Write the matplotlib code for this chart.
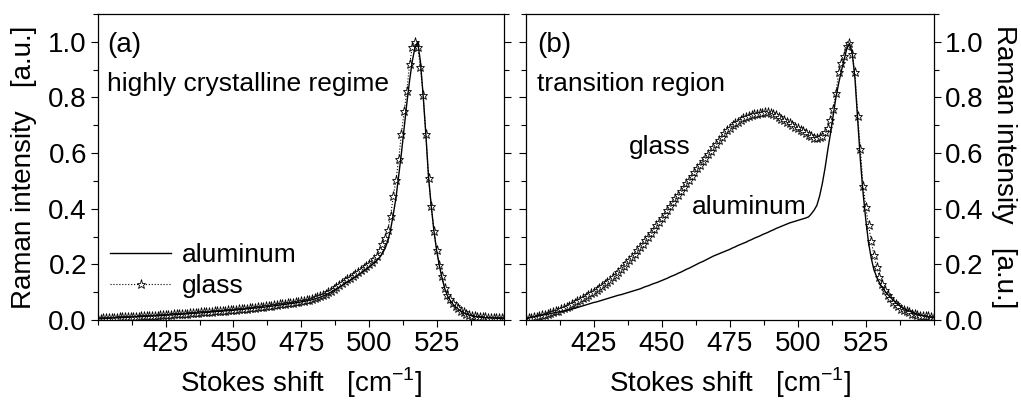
import matplotlib
matplotlib.use('Agg')
import matplotlib.pyplot as plt
from matplotlib.lines import Line2D
from matplotlib.ticker import MultipleLocator

plt.rcParams['font.family'] = ['Liberation Sans', 'DejaVu Sans']

# Stokes shift grid (cm^-1)
shift = list(range(400, 551))

# panel (a): highly crystalline regime
a_glass = [
    0.005, 0.005, 0.006, 0.006, 0.007, 0.007, 0.008, 0.008, 0.009, 0.009,
    0.010, 0.010, 0.011, 0.011, 0.012, 0.012, 0.013, 0.013, 0.014, 0.014,
    0.015, 0.015, 0.016, 0.017, 0.017, 0.018, 0.018, 0.019, 0.020, 0.020,
    0.021, 0.022, 0.022, 0.023, 0.024, 0.025, 0.025, 0.026, 0.027, 0.028,
    0.028, 0.029, 0.030, 0.031, 0.032, 0.032, 0.033, 0.034, 0.035, 0.035,
    0.036, 0.037, 0.038, 0.039, 0.040, 0.041, 0.042, 0.043, 0.044, 0.045,
    0.047, 0.048, 0.049, 0.050, 0.052, 0.053, 0.054, 0.056, 0.057, 0.058,
    0.060, 0.061, 0.062, 0.064, 0.065, 0.067, 0.069, 0.071, 0.073, 0.076,
    0.079, 0.082, 0.086, 0.090, 0.095, 0.100, 0.106, 0.112, 0.119, 0.126,
    0.133, 0.140, 0.146, 0.152, 0.158, 0.164, 0.171, 0.178, 0.186, 0.194,
    0.203, 0.210, 0.218, 0.230, 0.250, 0.275, 0.295, 0.325, 0.375, 0.445,
    0.505, 0.580, 0.670, 0.750, 0.825, 0.920, 0.980, 1.000, 0.980, 0.910,
    0.810, 0.670, 0.510, 0.410, 0.320, 0.252, 0.198, 0.158, 0.116, 0.090,
    0.075, 0.062, 0.050, 0.042, 0.034, 0.027, 0.023, 0.019, 0.016, 0.014,
    0.012, 0.011, 0.010, 0.009, 0.008, 0.008, 0.007, 0.007, 0.006, 0.006,
    0.006,
]
a_aluminum = [
    0.004, 0.005, 0.005, 0.006, 0.006, 0.007, 0.007, 0.008, 0.008, 0.009,
    0.009, 0.010, 0.010, 0.011, 0.011, 0.012, 0.012, 0.013, 0.013, 0.014,
    0.014, 0.015, 0.015, 0.016, 0.016, 0.017, 0.018, 0.018, 0.019, 0.020,
    0.020, 0.021, 0.022, 0.022, 0.023, 0.024, 0.024, 0.025, 0.026, 0.027,
    0.027, 0.028, 0.029, 0.030, 0.031, 0.031, 0.032, 0.033, 0.034, 0.034,
    0.035, 0.036, 0.037, 0.038, 0.039, 0.040, 0.041, 0.042, 0.043, 0.044,
    0.045, 0.046, 0.047, 0.049, 0.050, 0.051, 0.052, 0.054, 0.055, 0.056,
    0.058, 0.059, 0.060, 0.062, 0.063, 0.065, 0.067, 0.069, 0.071, 0.073,
    0.076, 0.079, 0.082, 0.086, 0.090, 0.095, 0.100, 0.106, 0.112, 0.118,
    0.124, 0.131, 0.137, 0.143, 0.149, 0.155, 0.161, 0.168, 0.175, 0.182,
    0.190, 0.198, 0.206, 0.215, 0.226, 0.240, 0.258, 0.285, 0.325, 0.380,
    0.440, 0.520, 0.600, 0.690, 0.780, 0.860, 0.930, 0.980, 1.000, 0.930,
    0.810, 0.670, 0.515, 0.410, 0.320, 0.250, 0.195, 0.150, 0.112, 0.087,
    0.070, 0.057, 0.047, 0.039, 0.032, 0.026, 0.022, 0.018, 0.015, 0.013,
    0.011, 0.010, 0.009, 0.008, 0.008, 0.007, 0.007, 0.006, 0.006, 0.005,
    0.005,
]

# panel (b): transition region
b_glass = [
    0.005, 0.007, 0.008, 0.010, 0.012, 0.014, 0.017, 0.019, 0.022, 0.025,
    0.028, 0.031, 0.034, 0.038, 0.042, 0.046, 0.051, 0.056, 0.061, 0.067,
    0.073, 0.078, 0.084, 0.090, 0.096, 0.102, 0.109, 0.116, 0.122, 0.129,
    0.137, 0.144, 0.153, 0.163, 0.173, 0.183, 0.194, 0.204, 0.215, 0.227,
    0.238, 0.250, 0.262, 0.274, 0.286, 0.298, 0.312, 0.326, 0.340, 0.354,
    0.368, 0.382, 0.396, 0.410, 0.424, 0.437, 0.451, 0.465, 0.479, 0.492,
    0.505, 0.519, 0.532, 0.545, 0.558, 0.570, 0.583, 0.595, 0.608, 0.621,
    0.634, 0.647, 0.659, 0.671, 0.683, 0.692, 0.700, 0.707, 0.713, 0.720,
    0.726, 0.730, 0.734, 0.737, 0.740, 0.742, 0.744, 0.745, 0.746, 0.746,
    0.745, 0.742, 0.737, 0.731, 0.724, 0.718, 0.713, 0.707, 0.701, 0.695,
    0.689, 0.684, 0.678, 0.673, 0.666, 0.660, 0.655, 0.655, 0.658, 0.663,
    0.675, 0.692, 0.718, 0.760, 0.815, 0.890, 0.925, 0.950, 0.985, 0.995,
    0.955, 0.890, 0.735, 0.615, 0.482, 0.405, 0.340, 0.284, 0.233, 0.190,
    0.155, 0.128, 0.108, 0.091, 0.078, 0.066, 0.057, 0.049, 0.041, 0.035,
    0.031, 0.027, 0.023, 0.020, 0.018, 0.016, 0.015, 0.014, 0.013, 0.012,
    0.011,
]
b_aluminum = [
    0.005, 0.007, 0.009, 0.011, 0.013, 0.015, 0.017, 0.019, 0.021, 0.023,
    0.025, 0.027, 0.029, 0.031, 0.033, 0.035, 0.037, 0.040, 0.042, 0.045,
    0.048, 0.051, 0.054, 0.057, 0.060, 0.063, 0.065, 0.068, 0.071, 0.074,
    0.077, 0.080, 0.083, 0.086, 0.089, 0.091, 0.094, 0.097, 0.100, 0.103,
    0.106, 0.109, 0.112, 0.116, 0.120, 0.123, 0.127, 0.131, 0.134, 0.138,
    0.142, 0.146, 0.150, 0.155, 0.159, 0.163, 0.168, 0.172, 0.177, 0.182,
    0.186, 0.191, 0.196, 0.201, 0.206, 0.210, 0.215, 0.220, 0.225, 0.230,
    0.234, 0.238, 0.242, 0.246, 0.250, 0.254, 0.259, 0.263, 0.268, 0.272,
    0.276, 0.280, 0.285, 0.289, 0.294, 0.298, 0.302, 0.307, 0.311, 0.315,
    0.320, 0.324, 0.329, 0.333, 0.337, 0.341, 0.345, 0.349, 0.352, 0.355,
    0.358, 0.361, 0.364, 0.367, 0.371, 0.382, 0.395, 0.412, 0.445, 0.490,
    0.545, 0.610, 0.670, 0.735, 0.800, 0.850, 0.895, 0.935, 0.975, 0.995,
    0.960, 0.870, 0.720, 0.575, 0.456, 0.360, 0.278, 0.222, 0.180, 0.155,
    0.134, 0.118, 0.104, 0.092, 0.082, 0.072, 0.062, 0.054, 0.047, 0.041,
    0.036, 0.032, 0.028, 0.024, 0.021, 0.018, 0.015, 0.013, 0.011, 0.009,
    0.008,
]

xticks = [425, 450, 475, 500, 525]
yticks = [0.0, 0.2, 0.4, 0.6, 0.8, 1.0]
xlabel = 'Stokes shift   [cm$^{\\mathregular{-1}}$]'
ylabel = 'Raman intensity   [a.u.]'

FS = 20
fig = plt.figure(figsize=(10.21, 4.01), dpi=100)
ax1 = fig.add_axes([0.096, 0.202, 0.398, 0.763])
ax2 = fig.add_axes([0.515, 0.202, 0.3996, 0.763])

star = dict(ls=':', lw=0.8, color='black', marker='*', ms=6.5,
            mfc='white', mec='black', mew=0.6)

for ax, al, gl in [(ax1, a_aluminum, a_glass), (ax2, b_aluminum, b_glass)]:
    ax.plot(shift, gl, zorder=2, **star)
    ax.plot(shift, al, color='black', lw=1.0, zorder=3)
    ax.set_xlim(400, 550)
    ax.set_ylim(0, 1.1)
    ax.set_xticks(xticks)
    ax.set_yticks(yticks)
    ax.set_yticklabels([f'{v:.1f}' for v in yticks])
    ax.xaxis.set_minor_locator(MultipleLocator(12.5))
    ax.yaxis.set_minor_locator(MultipleLocator(0.1))
    ax.tick_params(which='both', direction='out', labelsize=FS, width=0.8, pad=3)
    ax.tick_params(which='major', length=5)
    ax.tick_params(which='minor', length=3.5)
    ax.set_xlabel(xlabel, fontsize=FS, labelpad=6)
    for s in ax.spines.values():
        s.set_linewidth(0.9)

# left panel: labels on the left, bare ticks on the right
ax1.tick_params(axis='y', which='both', right=True, labelright=False)
ax1.set_ylabel(ylabel, fontsize=FS, labelpad=8)
ax1.text(0.022, 0.94, '(a)', transform=ax1.transAxes, fontsize=FS, va='top', ha='left')
ax1.text(0.022, 0.77, 'highly crystalline regime', transform=ax1.transAxes,
         fontsize=19, va='center', ha='left')
handles = [Line2D([], [], color='black', lw=1.0),
           Line2D([], [], **star)]
ax1.legend(handles, ['aluminum', 'glass'], loc='lower left', bbox_to_anchor=(0.03, 0.072),
           frameon=False, fontsize=19, handlelength=2.3, handletextpad=0.4,
           labelspacing=0.25, borderpad=0, borderaxespad=0, numpoints=1)

# right panel: labels on the right
ax2.yaxis.tick_right()
ax2.tick_params(axis='y', which='both', left=True, right=True, labelleft=False, labelright=True)
ax2.yaxis.set_label_position('right')
ax2.set_ylabel(ylabel, fontsize=FS, rotation=-90, labelpad=24)
ax2.text(0.027, 0.94, '(b)', transform=ax2.transAxes, fontsize=FS, va='top', ha='left')
ax2.text(0.027, 0.77, 'transition region', transform=ax2.transAxes,
         fontsize=19, va='center', ha='left')
ax2.text(438, 0.622, 'glass', fontsize=19, va='center', ha='left')
ax2.text(461, 0.406, 'aluminum', fontsize=19, va='center', ha='left')

fig.savefig('out.png', dpi=100)
